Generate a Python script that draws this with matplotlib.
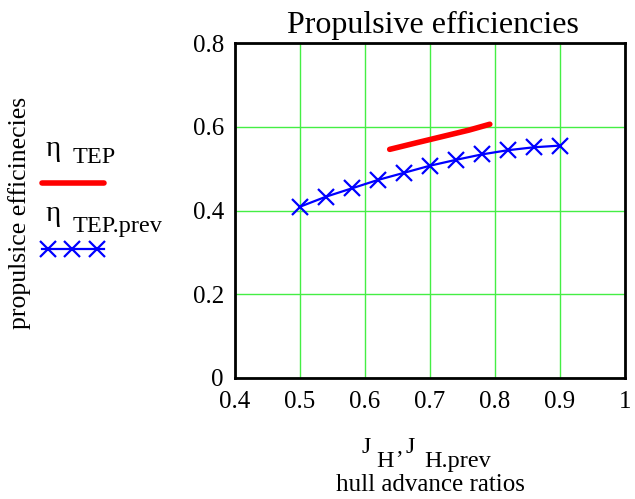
import matplotlib
matplotlib.use("Agg")
import matplotlib.pyplot as plt
from matplotlib.lines import Line2D

plt.rcParams['font.family'] = ['Liberation Serif', 'DejaVu Serif']

# data
j_tep = [0.638, 0.68, 0.72, 0.76, 0.792]
eta_tep = [0.546, 0.562, 0.577, 0.592, 0.606]
j_prev = [0.50, 0.54, 0.58, 0.62, 0.66, 0.70, 0.74, 0.78, 0.82, 0.86, 0.90]
eta_prev = [0.409, 0.433, 0.453, 0.473, 0.490, 0.507, 0.521, 0.534, 0.544, 0.551, 0.555]
xticks = [0.4, 0.5, 0.6, 0.7, 0.8, 0.9, 1.0]
xticklabels = ['0.4', '0.5', '0.6', '0.7', '0.8', '0.9', '1']
yticks = [0.0, 0.2, 0.4, 0.6, 0.8]
yticklabels = ['0', '0.2', '0.4', '0.6', '0.8']

W, H = 635, 499
fig = plt.figure(figsize=(W / 100, H / 100), dpi=100)
ax = fig.add_axes([235 / W, 1 - 378 / H, (625 - 235) / W, (378 - 43) / H])

ax.set_xlim(0.4, 1.0)
ax.set_ylim(0.0, 0.8)
ax.set_xticks(xticks)
ax.set_xticklabels(xticklabels)
ax.set_yticks(yticks)
ax.set_yticklabels(yticklabels)
ax.tick_params(length=0, labelsize=18, pad=8)
ax.tick_params(axis='x', pad=9)
ax.grid(True, color='#44ee44', linewidth=1.0)
ax.set_axisbelow(True)
for s in ax.spines.values():
    s.set_linewidth(2)
    s.set_color('black')

ax.plot(j_tep, eta_tep, color='#ff0000', linewidth=4, solid_capstyle='round', zorder=3)
ax.plot(j_prev, eta_prev, color='#0000ff', linewidth=1.6, marker='x',
        markersize=11, markeredgewidth=1.6, zorder=3)

fig.text(433 / W, 1 - 25 / H, 'Propulsive efficiencies', ha='center', va='center', fontsize=23)

# y label
fig.text(20 / W, 1 - 213 / H, 'propulsice efficinecies', rotation=90,
         ha='center', va='center', fontsize=18.5)

# legend
fig.text(46 / W, 1 - 156 / H, 'η', fontsize=21, ha='left', va='baseline')
fig.text(73 / W, 1 - 163 / H, 'TEP', fontsize=17.5, ha='left', va='baseline')
fig.add_artist(Line2D([42 / W, 104 / W], [1 - 183 / H, 1 - 183 / H],
                      color='#ff0000', linewidth=4, solid_capstyle='round',
                      transform=fig.transFigure))
fig.text(46 / W, 1 - 221 / H, 'η', fontsize=21, ha='left', va='baseline')
fig.text(73 / W, 1 - 232 / H, 'TEP.prev', fontsize=17.5, ha='left', va='baseline')
fig.add_artist(Line2D([42 / W, 104 / W], [1 - 249 / H, 1 - 249 / H],
                      color='#0000ff', linewidth=1.6, transform=fig.transFigure))
fig.add_artist(Line2D([48 / W, 72 / W, 97 / W], [1 - 249 / H] * 3,
                      color='#0000ff', linestyle='none', marker='x', markersize=11,
                      markeredgewidth=1.6, transform=fig.transFigure))

# x label
fig.text(361 / W, 1 - 453 / H, 'J', fontsize=17, ha='left', va='baseline')
fig.text(376 / W, 1 - 467 / H, 'H', fontsize=17.5, ha='left', va='baseline')
fig.text(396 / W, 1 - 453 / H, ',', fontsize=17, ha='left', va='baseline')
fig.text(406 / W, 1 - 453 / H, 'J', fontsize=17, ha='left', va='baseline')
fig.text(424 / W, 1 - 467 / H, 'H.prev', fontsize=17.5, ha='left', va='baseline')
fig.text(430 / W, 1 - 491 / H, 'hull advance ratios', fontsize=18, ha='center', va='baseline')

fig.savefig('out.png', dpi=100)
